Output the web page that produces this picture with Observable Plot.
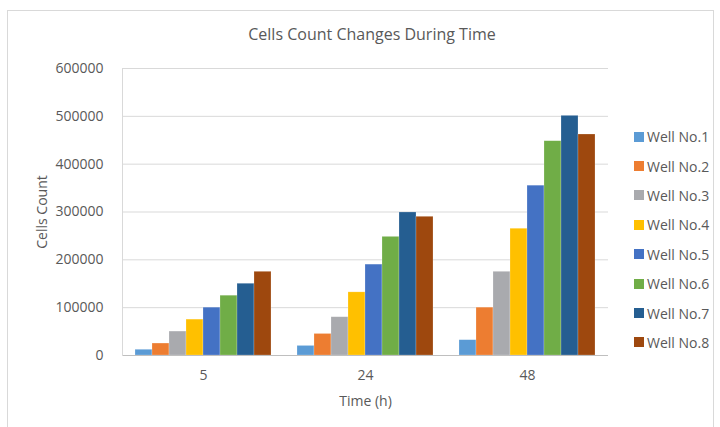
<!DOCTYPE html>
<html><head><meta charset="utf-8">
<script src="https://cdn.jsdelivr.net/npm/d3@7"></script>
<script src="https://cdn.jsdelivr.net/npm/@observablehq/plot@0.6"></script>
<style>
body{margin:0;background:#fff;}
#wrap{position:relative;width:720px;height:427px;font-family:"Open Sans",sans-serif;color:#595959;overflow:hidden;}
#border{position:absolute;left:7px;top:10px;width:707px;height:430px;border:1px solid #d9d9d9;box-sizing:border-box;}
#title{position:absolute;top:23px;left:372px;transform:translateX(-50%);white-space:nowrap;font-size:16px;}
#chart{position:absolute;left:0;top:0;}
#legend{position:absolute;left:634px;top:122px;}
.item{display:flex;align-items:center;height:29.4px;font-size:14px;white-space:nowrap;}
.sw{width:10px;height:10px;margin-right:3px;}
</style></head>
<body>
<div id="wrap"><div id="border"></div><div id="chart"></div><div id="title">Cells Count Changes During Time</div><div id="legend"></div></div>
<script>
const times = ["5", "24", "48"];
const wells = ["Well No.1","Well No.2","Well No.3","Well No.4","Well No.5","Well No.6","Well No.7","Well No.8"];
const colors = ["#5B9BD5","#ED7D31","#A9AAAE","#FFC000","#4472C4","#70AD47","#255E91","#9E480E"];
const counts5h  = [12000, 25000, 50000, 75000, 100000, 125000, 150000, 175000];
const counts24h = [20000, 45000, 80000, 132000, 190000, 248000, 299000, 290000];
const counts48h = [32000, 100000, 175000, 265000, 355000, 448000, 501000, 462000];
const yTicks = [0, 100000, 200000, 300000, 400000, 500000, 600000];

const byTime = [counts5h, counts24h, counts48h];
const data = [];
times.forEach((t, i) => wells.forEach((w, j) => data.push({time: t, well: w, count: byTime[i][j]})));

const plot = Plot.plot({
  width: 720, height: 427,
  marginTop: 68, marginBottom: 72, marginLeft: 121, marginRight: 111,
  style: {fontFamily: "Open Sans", fontSize: "14px", color: "#595959", background: "transparent", overflow: "visible"},
  fx: {domain: times, paddingInner: 0.16, paddingOuter: 0.08, label: "Time (h)"},
  x: {domain: wells, padding: 0, axis: null},
  y: {domain: [0, 600000], label: "Cells Count"},
  color: {domain: wells, range: colors},
  marks: [
    Plot.ruleY(yTicks.slice(1), {y: d => d, stroke: "#d9d9d9", insetLeft: -13, insetRight: -13}),
    Plot.barY(data, {fx: "time", x: "well", y: "count", fill: "well", stroke: "#ffffff", strokeOpacity: 0.35, strokeWidth: 0.6}),
    Plot.ruleY([0], {stroke: "#bfbfbf", insetLeft: -13, insetRight: -13}),
    Plot.frame({anchor: "left", facetAnchor: "left", stroke: "#d9d9d9", dx: -13}),
    Plot.axisY({ticks: yTicks, tickSize: 0, dx: -23, tickFormat: d => String(d), label: "Cells Count", labelAnchor: "center", labelArrow: "none", labelOffset: 98}),
    Plot.axisFx({anchor: "bottom", tickSize: 0, tickPadding: 15, label: "Time (h)", labelAnchor: "center", labelArrow: "none", labelOffset: 50})
  ]
});
document.getElementById("chart").appendChild(plot);

const legend = document.getElementById("legend");
wells.forEach((w, i) => {
  const it = document.createElement("div");
  it.className = "item";
  it.innerHTML = `<span class="sw" style="background:${colors[i]}"></span><span>${w}</span>`;
  legend.appendChild(it);
});
</script>
</body></html>
